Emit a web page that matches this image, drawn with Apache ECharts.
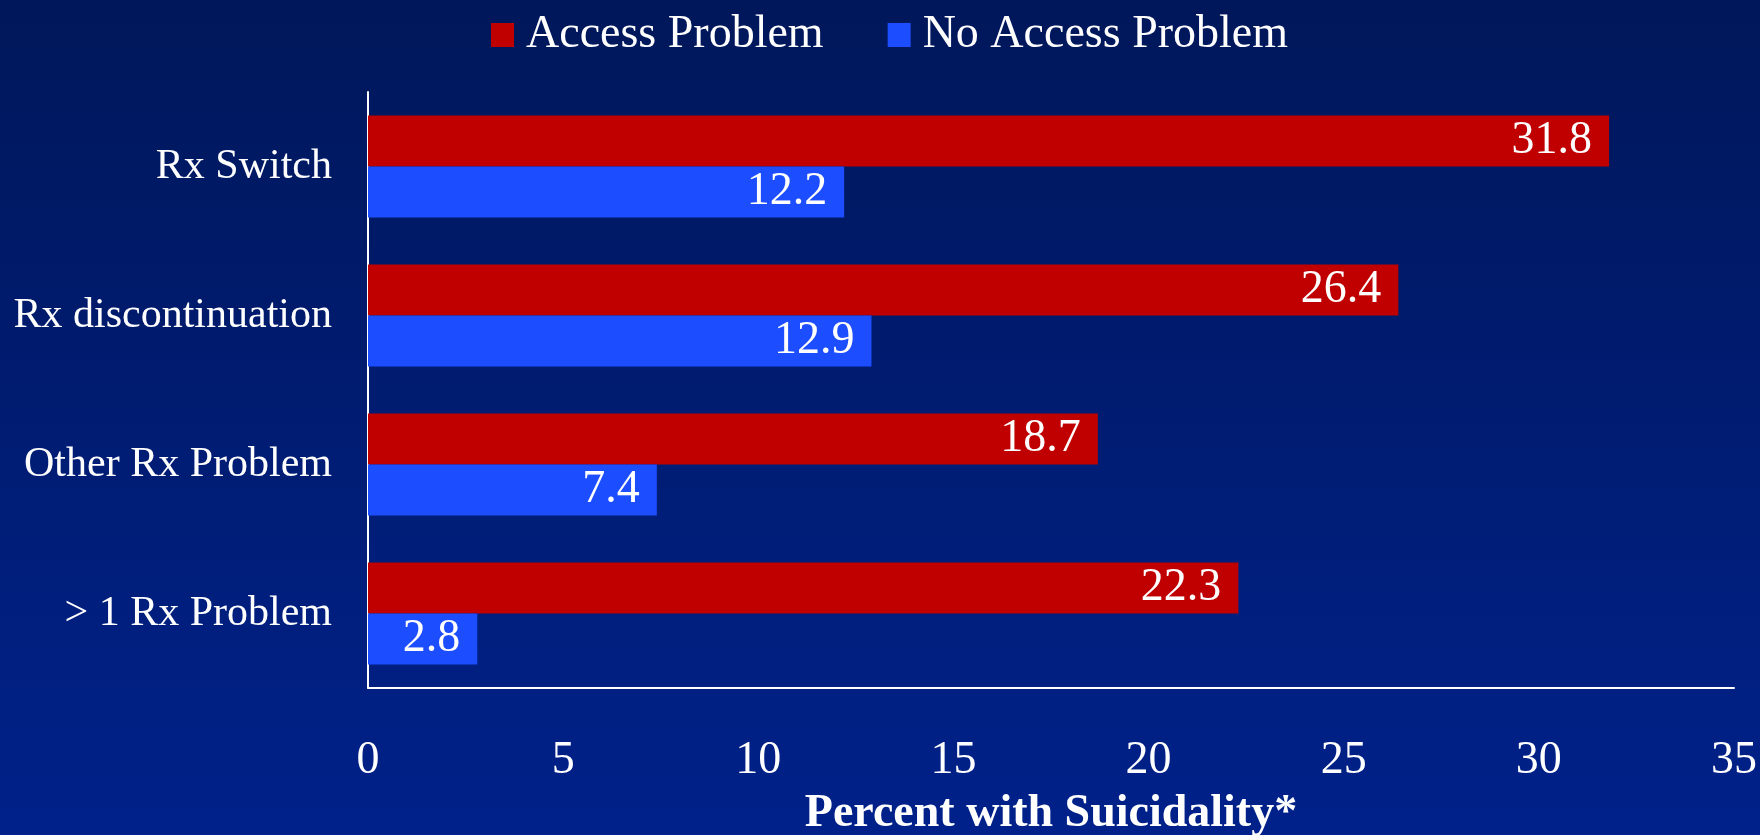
<!DOCTYPE html>
<html>
<head>
<meta charset="utf-8">
<script src="https://cdn.jsdelivr.net/npm/echarts@6/dist/echarts.min.js"></script>
<style>
  html, body { margin: 0; padding: 0; }
  #main { width: 1760px; height: 835px; }
</style>
</head>
<body>
<div id="main"></div>
<script>
var categories = ['Rx Switch', 'Rx discontinuation', 'Other Rx Problem', '> 1 Rx Problem'];
var accessProblem = [31.8, 26.4, 18.7, 22.3];
var noAccessProblem = [12.2, 12.9, 7.4, 2.8];
var xTicks = [0, 5, 10, 15, 20, 25, 30, 35];

var serif = '"Liberation Serif", "Times New Roman", serif';

var chartDom = document.getElementById('main');
var myChart = echarts.init(chartDom);
var option;

option = {
  backgroundColor: {
    type: 'linear',
    x: 0, y: 0, x2: 0, y2: 1,
    colorStops: [
      { offset: 0, color: '#00175a' },
      { offset: 1, color: '#00218a' }
    ]
  },
  legend: {
    data: ['Access Problem', 'No Access Problem'],
    left: 486,
    top: 7,
    itemWidth: 23,
    itemHeight: 24,
    itemGap: 64,
    icon: 'rect',
    textStyle: {
      color: '#ffffff',
      fontFamily: serif,
      fontSize: 46,
      padding: [0, 0, 0, 7]
    }
  },
  grid: {
    left: 368,
    right: 26,
    top: 92,
    bottom: 147,
    outerBoundsMode: 'none'
  },
  xAxis: {
    type: 'value',
    min: xTicks[0],
    max: xTicks[xTicks.length - 1],
    interval: 5,
    name: 'Percent with Suicidality*',
    nameLocation: 'middle',
    nameGap: 103,
    nameTextStyle: {
      color: '#ffffff',
      fontFamily: serif,
      fontSize: 46,
      fontWeight: 'bold'
    },
    axisLine: { show: true, lineStyle: { color: '#ffffff', width: 2 } },
    axisTick: { show: false },
    splitLine: { show: false },
    axisLabel: {
      color: '#ffffff',
      fontFamily: serif,
      fontSize: 46,
      margin: 50
    }
  },
  yAxis: {
    type: 'category',
    inverse: true,
    data: categories,
    axisLine: { show: true, lineStyle: { color: '#ffffff', width: 2 } },
    axisTick: { show: false },
    axisLabel: {
      color: '#ffffff',
      fontFamily: serif,
      fontSize: 42,
      margin: 36
    }
  },
  series: [
    {
      name: 'Access Problem',
      type: 'bar',
      barWidth: 51,
      barGap: '0%',
      itemStyle: { color: '#c00000' },
      label: {
        show: true,
        position: 'insideRight',
        distance: 17,
        color: '#ffffff',
        fontFamily: serif,
        fontSize: 46
      },
      data: accessProblem
    },
    {
      name: 'No Access Problem',
      type: 'bar',
      barWidth: 51,
      barGap: '0%',
      itemStyle: { color: '#1c4dff' },
      label: {
        show: true,
        position: 'insideRight',
        distance: 17,
        color: '#ffffff',
        fontFamily: serif,
        fontSize: 46
      },
      data: noAccessProblem
    }
  ]
};

myChart.setOption(option);
</script>
</body>
</html>
